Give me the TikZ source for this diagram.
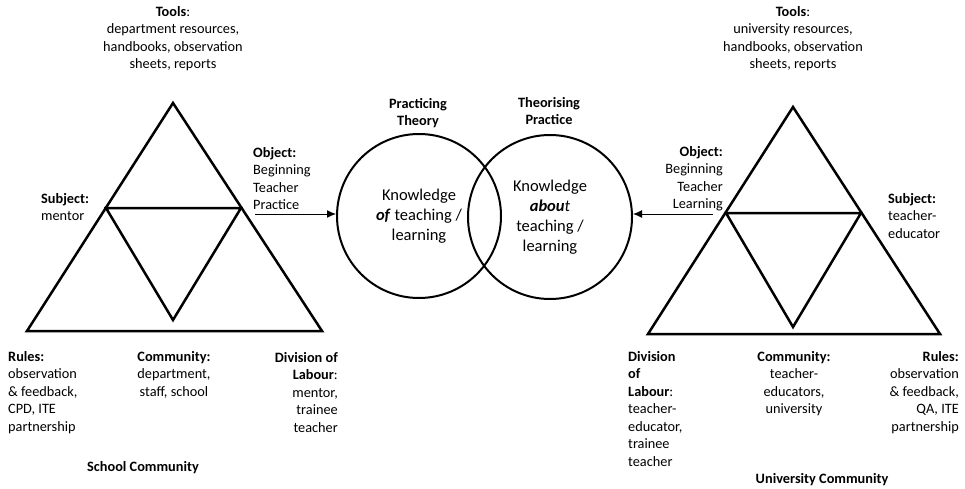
\documentclass[tikz,border=0pt]{standalone}
\usepackage{fontspec}
\setmainfont{Carlito}
\usetikzlibrary{arrows.meta}
\begin{document}
\begin{tikzpicture}[x=1pt,y=-1pt,
  lbl/.style={inner sep=0pt, font=\fontsize{14.3}{17.5}\selectfont},
  circtxt/.style={font=\fontsize{16.5}{19.8}\selectfont, align=center},
  tri/.style={line width=2.5pt, line join=miter},
  ring/.style={draw, line width=2pt, circle, minimum size=164pt, inner sep=0pt},
  conn/.style={line width=1pt, -{Latex[length=9pt,width=8pt]}}]
\useasboundingbox (0,0) rectangle (965,489);

% left activity triangle
\coordinate (LA) at (173,103);
\coordinate (LB) at (27,331);
\coordinate (LC) at (322,331);
\coordinate (LM1) at (106,208);
\coordinate (LM2) at (241,208);
\coordinate (LD) at (173,320);
\draw[tri] (LA) -- (LB) -- (LC) -- cycle;
\draw[tri] (LM1) -- (LM2) -- (LD) -- cycle;

% right activity triangle
\coordinate (RA) at (793,107);
\coordinate (RB) at (648,334);
\coordinate (RC) at (940,334);
\coordinate (RM1) at (726,213);
\coordinate (RM2) at (861,213);
\coordinate (RD) at (793,327);
\draw[tri] (RA) -- (RB) -- (RC) -- cycle;
\draw[tri] (RM1) -- (RM2) -- (RD) -- cycle;

% circles
\node[ring, circtxt] (kof) at (419,216) {Knowledge\\\textbf{\textit{of}} teaching /\\learning};
\node[ring, circtxt] (kab) at (550,217) {Knowledge\\\textbf{\textit{abou}}\textit{t}\\teaching /\\learning};

% arrows
\coordinate (objL) at (255,214);
\coordinate (objR) at (713,214);
\draw[conn] (objL) -- (objL -| kof.west);
\draw[conn] (objR) -- (objR -| kab.east);

% labels
\node[lbl, anchor=north, align=center] (toolsL) at (173,6) {\textbf{Tools}:\\department resources,\\handbooks, observation\\sheets, reports};
\node[lbl, anchor=north west, align=left] (subjL) at (41,193) {\textbf{Subject:}\\mentor};
\node[lbl, anchor=north west, align=left] (objLt) at (253,147) {\textbf{Object:}\\Beginning\\Teacher\\Practice};
\node[lbl, anchor=north, align=center] (pt) at (418,98) {\textbf{Practicing}\\\textbf{Theory}};
\node[lbl, anchor=north, align=center] (tp) at (549,97) {\textbf{Theorising}\\\textbf{Practice}};
\node[lbl, anchor=north, align=center] (toolsR) at (793,6) {\textbf{Tools}:\\university resources,\\handbooks, observation\\sheets, reports};
\node[lbl, anchor=north east, align=right] (objRt) at (723,146) {\textbf{Object:}\\Beginning\\Teacher\\Learning};
\node[lbl, anchor=north west, align=left] (subjR) at (888,193) {\textbf{Subject:}\\teacher-\\educator};

\node[lbl, anchor=north west, align=left] (rulesL) at (8,351) {\textbf{Rules:}\\observation\\\& feedback,\\CPD, ITE\\partnership};
\node[lbl, anchor=north, align=center] (commL) at (174,351) {\textbf{Community:}\\department,\\staff, school};
\node[lbl, anchor=north east, align=right] (divL) at (338,352) {\textbf{Division of}\\\textbf{Labour}:\\mentor,\\trainee\\teacher};
\node[lbl, anchor=north, align=center] (school) at (143,461) {\textbf{School Community}};

\node[lbl, anchor=north west, align=left] (divR) at (628,351) {\textbf{Division}\\\textbf{of}\\\textbf{Labour}:\\teacher-\\educator,\\trainee\\teacher};
\node[lbl, anchor=north, align=center] (commR) at (794,351) {\textbf{Community:}\\teacher-\\educators,\\university};
\node[lbl, anchor=north east, align=right] (rulesR) at (959,351) {\textbf{Rules:}\\observation\\\& feedback,\\QA, ITE\\partnership};
\node[lbl, anchor=north, align=center] (univ) at (822,473) {\textbf{University Community}};
\end{tikzpicture}
\end{document}
